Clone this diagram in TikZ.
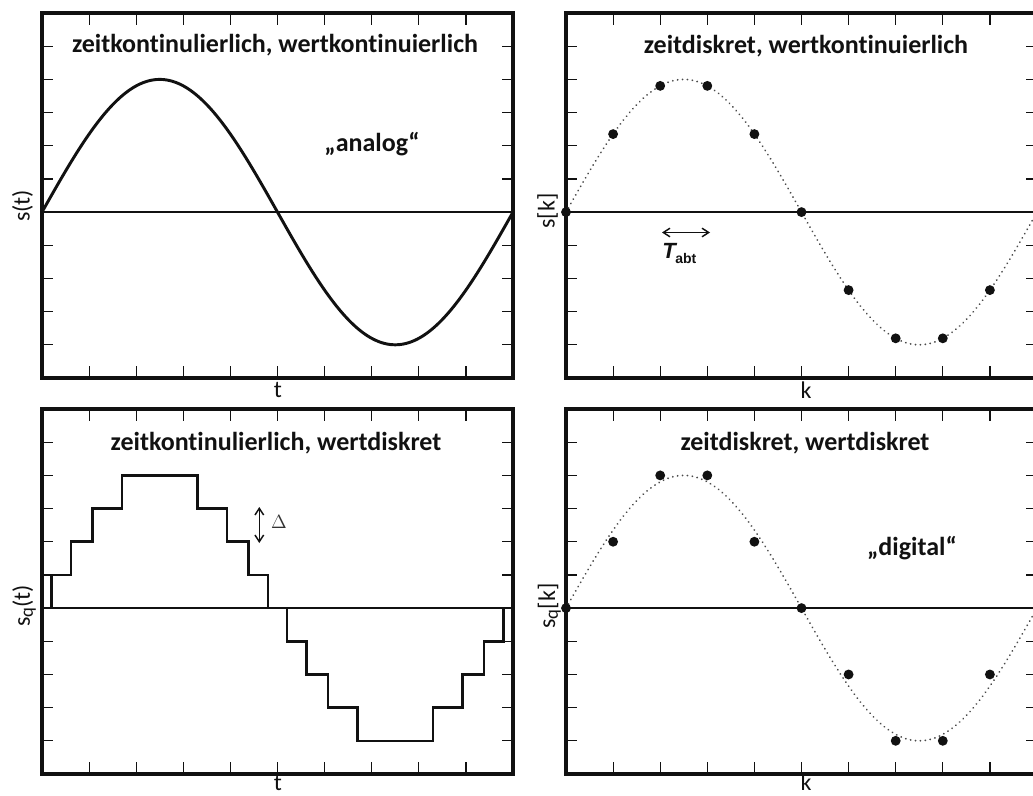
\documentclass[tikz,border=0pt]{standalone}
\usepackage{fontspec}
\setmainfont{Carlito}[Ligatures=NoCommon]
\newfontfamily\arialfont{Liberation Sans}
\usetikzlibrary{arrows.meta}
\definecolor{ink}{HTML}{111111}
\definecolor{dotline}{HTML}{4A4A4A}
\definecolor{muted}{HTML}{333333}
\tikzset{
  figbase/.style={
    font=\fontsize{18}{20}\selectfont,
    color=ink,
  },
  frame/.style={draw=ink, line width=3pt},
  tick/.style={draw=ink, line width=0.9pt},
  zeroline/.style={draw=ink, line width=1.4pt},
  sig/.style={draw=ink, line width=2.2pt, line join=round},
  stair/.style={draw=ink, line width=1.9pt},
  sampled/.style={draw=dotline, line width=1.4pt, dash pattern=on 0.1pt off 3.6pt, line cap=round},
  smp/.style={circle, fill=ink, inner sep=0pt, minimum size=7.4pt},
  head/.style={font=\fontsize{19.5}{22}\selectfont\bfseries, text=ink, anchor=base, inner sep=0pt},
  axislab/.style={font=\fontsize{18}{20}\selectfont, text=ink, anchor=base, inner sep=0pt},
  dblarr/.style={{Straight Barb[length=5pt,width=6.5pt]}-{Straight Barb[length=5pt,width=6.5pt]}, line width=1.1pt, draw=ink},
}

\begin{document}
\begin{tikzpicture}[x=0.75pt, y=-0.75pt, figbase]
  \useasboundingbox (0,0) rectangle (1033,796);
  \clip (0,0) rectangle (1033,796);

  % frames, ticks, zero lines
  \foreach \px/\py in {42/13, 566/13, 42/409, 566/409} {
    \begin{scope}[shift={(\px,\py)}]
      \foreach \i in {1,...,9} {
        \draw[tick] ({47.1*\i},0) -- ++(0,12);
        \draw[tick] ({47.1*\i},365) -- ++(0,-12);
      }
      \foreach \j in {1,...,10} {
        \draw[tick] (0,{33.18*\j}) -- ++(11,0);
        \draw[tick] (471,{33.18*\j}) -- ++(-11,0);
      }
      \draw[zeroline] (0,199.1) -- (471,199.1);
      \draw[frame] (0,0) rectangle (471,365);
    \end{scope}
  }

  % zeitkontinuierlich, wertkontinuierlich
  \begin{scope}[shift={(42,212.1)}, y=24.885pt]
    \draw[sig] plot[domain=0:360, samples=121, smooth] ({\x*1.30833},{4*sin(\x)});
  \end{scope}

  % zeitdiskret, wertkontinuierlich
  \begin{scope}[shift={(566,212.1)}, y=24.885pt]
    \draw[sampled] plot[domain=0:360, samples=121, smooth] ({\x*1.30833},{4*sin(\x)});
    \foreach \k in {0,...,9}
      \node[smp] (sa\k) at ({47.1*\k},{4*sin(36*\k)}) {};
  \end{scope}

  % zeitkontinuierlich, wertdiskret
  \begin{scope}[shift={(42,608.1)}, y=24.885pt]
    \draw[stair] (0,0) -- (9.4,0) -- (9.4,1) -- (28.8,1) -- (28.8,2) -- (50.6,2) -- (50.6,3)
      -- (79.9,3) -- (79.9,4) -- (155.6,4) -- (155.6,3) -- (184.9,3) -- (184.9,2)
      -- (206.7,2) -- (206.7,1) -- (226.1,1) -- (226.1,0) -- (244.9,0) -- (244.9,-1)
      -- (264.3,-1) -- (264.3,-2) -- (286.1,-2) -- (286.1,-3) -- (315.4,-3) -- (315.4,-4)
      -- (391.1,-4) -- (391.1,-3) -- (420.4,-3) -- (420.4,-2) -- (442.2,-2) -- (442.2,-1)
      -- (461.6,-1) -- (461.6,0) -- (471,0);
  \end{scope}

  % zeitdiskret, wertdiskret
  \begin{scope}[shift={(566,608.1)}, y=24.885pt]
    \draw[sampled] plot[domain=0:360, samples=121, smooth] ({\x*1.30833},{4*sin(\x)});
    \foreach \k in {0,...,9}
      \node[smp] (sq\k) at ({47.1*\k},{round(4*sin(36*\k))}) {};
  \end{scope}

  % headings
  \node[head] (h1) at (275,52.5) {zeitkontinulierlich, wertkontinuierlich};
  \node[head] (h2) at (806,53.3) {zeitdiskret, wertkontinuierlich};
  \node[head] (h3) at (276,450) {zeitkontinulierlich, wertdiskret};
  \node[head] (h4) at (805,450) {zeitdiskret, wertdiskret};
  \node[head] (analog) at (372,151) {„analog“};
  \node[head] (digital) at (912,555) {„digital“};

  % axis labels
  \node[axislab, rotate=90] (yl1) at (29.5,206) {s(t)};
  \node[axislab, rotate=90] (yl2) at (554.7,211) {s[k]};
  \node[axislab, rotate=90] (yl3) at (30,606)
    {s\raisebox{-0.12em}{\fontsize{14}{15}\selectfont q}(t)};
  \node[axislab, rotate=90] (yl4) at (555,606)
    {s\raisebox{-0.12em}{\fontsize{14}{15}\selectfont q}[k]};
  \node[axislab] (xl1) at (278,397) {t};
  \node[axislab] (xl2) at (806,398) {k};
  \node[axislab] (xl3) at (278,790) {t};
  \node[axislab] (xl4) at (806,790.5) {k};

  % sampling interval
  \coordinate (ta) at (662,232.5);
  \coordinate (tb) at (710,232.5);
  \draw[dblarr] (ta) -- (tb);
  \node[anchor=base west, inner sep=0pt, font=\arialfont\bfseries] (tabt) at (662,258)
    {{\fontsize{16.5}{18}\selectfont\itshape T}\kern-0.3pt\raisebox{-3.8pt}{\fontsize{10.5}{12}\selectfont abt}};

  % quantisation step
  \coordinate (qa) at (259.3,507);
  \coordinate (qb) at (259.3,543);
  \draw[dblarr] (qa) -- (qb);
  \node[anchor=base, inner sep=0pt, text=muted, font=\fontsize{14}{16}\selectfont] (delta) at (279,528.5) {$\Delta$};
\end{tikzpicture}
\end{document}
